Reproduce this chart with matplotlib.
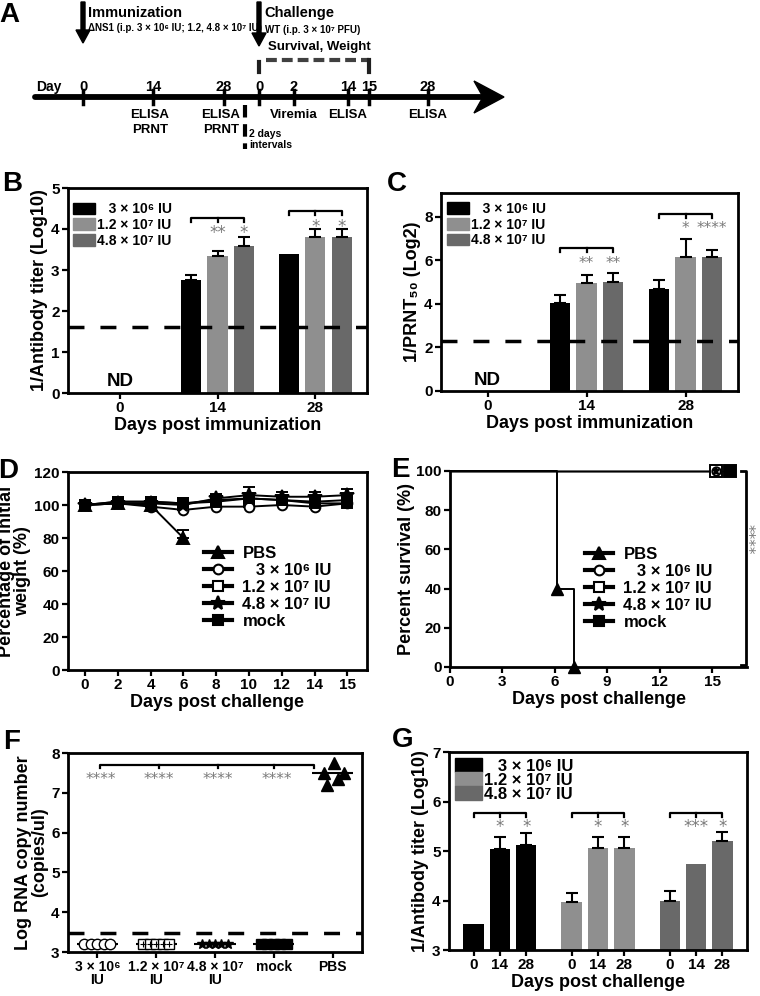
import numpy as np
import matplotlib.pyplot as plt
from matplotlib.lines import Line2D
from matplotlib.patches import Patch, Polygon, FancyArrow
from matplotlib.transforms import offset_copy

plt.rcParams["font.family"] = ["Liberation Sans", "DejaVu Sans"]
plt.rcParams["font.weight"] = "bold"
plt.rcParams["axes.labelweight"] = "bold"
plt.rcParams["axes.linewidth"] = 2.0
plt.rcParams["xtick.major.width"] = 1.6
plt.rcParams["ytick.major.width"] = 1.6
plt.rcParams["xtick.major.size"] = 4
plt.rcParams["ytick.major.size"] = 4
plt.rcParams["xtick.major.pad"] = 2
plt.rcParams["ytick.major.pad"] = 2
plt.rcParams["xtick.labelsize"] = 11
plt.rcParams["ytick.labelsize"] = 11
plt.rcParams["axes.labelsize"] = 13

NARROW = ["Liberation Sans Narrow", "DejaVu Sans Condensed", "Liberation Sans"]
W, H = 760, 996

# ---------------- data ----------------
dose_labels = ["   3 × 10⁶ IU", "1.2 × 10⁷ IU", "4.8 × 10⁷ IU"]
dose_colors = ["#000000", "#8f8f8f", "#696969"]
imm_days = ["0", "14", "28"]

# B: ELISA titer after immunization (day 0 not detected)
elisa_mean = [[np.nan, 2.76, 3.38], [np.nan, 3.34, 3.81], [np.nan, 3.59, 3.81]]
elisa_err = [[0, 0.13, 0], [0, 0.12, 0.19], [0, 0.22, 0.19]]
elisa_lod = 1.6
elisa_stars = [["", "", ""], ["", "**", "*"], ["", "*", "*"]]

# C: PRNT50 after immunization
prnt_mean = [[np.nan, 4.03, 4.67], [np.nan, 4.95, 6.17], [np.nan, 5.03, 6.17]]
prnt_err = [[0, 0.38, 0.43], [0, 0.38, 0.8], [0, 0.38, 0.31]]
prnt_lod = 2.32
prnt_stars = [["", "", ""], ["", "**", "**"], ["", "*", "****"]]

# D: weight after challenge
chal_days = [0, 2, 4, 6, 8, 10, 12, 14, 15]
weight_pbs = [100, 101, 100, 80]
weight_pbs_err = [0.5, 1, 1, 4.8]
weight_3e6 = [100, 101, 99, 97, 99, 99, 100, 99, 101]
weight_3e6_err = [0.5, 1, 1, 1, 1, 1, 1, 1, 1]
weight_12e7 = [100, 102, 102, 101, 103, 104, 103, 102, 103]
weight_12e7_err = [0.5, 1, 1.5, 1.5, 2, 2, 2, 2, 2]
weight_48e7 = [100, 101, 101, 100, 104, 106, 105, 105, 106]
weight_48e7_err = [0.5, 1, 1, 2, 2.5, 5, 3, 3, 4]
weight_mock = [100, 102, 102, 101, 102, 104, 103, 101, 101]
weight_mock_err = [0.5, 1, 1, 1, 1, 1, 1, 1, 1]
group_labels = ["PBS", "   3 × 10⁶ IU", "1.2 × 10⁷ IU", "4.8 × 10⁷ IU", "mock"]

# E: survival
surv_pbs_day = [0, 6.15, 7.1]
surv_pbs = [100, 40, 0]
surv_end_day = [15.2, 15.2, 15.2, 16.0]   # 3e6, 1.2e7, 4.8e7, mock
surv_end = [100, 100, 100, 100]

# F: viremia day 2
viremia_labels = ["3 × 10⁶\nIU", "1.2 × 10⁷\nIU", "4.8 × 10⁷\nIU", "mock", "PBS"]
viremia = [
    [3.2, 3.2, 3.2, 3.2, 3.2],
    [3.2, 3.2, 3.2, 3.2, 3.2],
    [3.2, 3.2, 3.2, 3.2, 3.2],
    [3.2, 3.2, 3.2, 3.2, 3.2],
    [7.75, 7.5, 7.5, 7.35, 7.2],
]
viremia_lod = 3.48

# G: ELISA titer after challenge
g_days = ["0", "14", "28"]
g_mean = [[3.53, 5.04, 5.12], [3.97, 5.07, 5.07], [4.0, 4.73, 5.2]]
g_err = [[0, 0.25, 0.25], [0.19, 0.22, 0.22], [0.2, 0, 0.18]]
g_stars = [["", "*", "*"], ["", "*", "*"], ["", "***", "*"]]


# ---------------- helpers ----------------
def add_axes_px(fig, left, top, right, bottom):
    return fig.add_axes([left / W, 1 - bottom / H, (right - left) / W, (bottom - top) / H])


def bracket(ax, x0, x1, y, h, mids=()):
    ax.plot([x0, x0, x1, x1], [y - h, y, y, y - h], color="k", lw=1.6, clip_on=False)
    for xm in mids:
        ax.plot([xm, xm], [y, y - h], color="k", lw=1.6, clip_on=False)


def stars(ax, x, y, s, size=12, rot=0):
    # the asterisk sits high in its em box, pull it back to the anchor
    dx, dy = (-5, 0) if rot else (0, -5)
    tr = offset_copy(ax.transData, fig=ax.figure, x=dx, y=dy, units="dots")
    ax.text(x, y, s, color="#7a7a7a", fontweight="normal", family="DejaVu Sans",
            ha="center", va="center", fontsize=size, rotation=rot, clip_on=False,
            transform=tr)


def bars(ax, centers, values, errors, color, label=None):
    centers = np.asarray(centers, float)
    v = np.asarray(values, float)
    e = np.asarray(errors, float)
    ax.bar(centers, v, width=0.205, color=color, label=label, zorder=2)
    ok = e > 0
    ax.errorbar(centers[ok], v[ok], yerr=[np.zeros(ok.sum()), e[ok]], fmt="none",
                ecolor="k", elinewidth=1.5, capsize=4, capthick=1.5, zorder=3)


def bar_legend(ax, x, y, size=10, spacing=0.12):
    h = [Patch(color=c) for c in dose_colors]
    ax.legend(h, dose_labels, loc="upper left", bbox_to_anchor=(x, y), frameon=False,
              fontsize=size, handlelength=1.6, handleheight=0.9, handletextpad=0.15,
              labelspacing=spacing, borderpad=0, borderaxespad=0)


def marker_styles():
    return [
        dict(marker="^", mfc="k", ms=8),
        dict(marker="o", mfc="white", ms=7),
        dict(marker="s", mfc="white", ms=7),
        dict(marker="*", mfc="k", ms=10),
        dict(marker="s", mfc="k", ms=7),
    ]


def line_legend(ax, x, y):
    h = [Line2D([], [], color="k", lw=3, mec="k", mew=1.5, **st) for st in marker_styles()]
    ax.legend(h, group_labels, loc="upper left", bbox_to_anchor=(x, y), frameon=False,
              fontsize=12, handlelength=1.7, handletextpad=0.6, labelspacing=0.12,
              borderpad=0, borderaxespad=0)


def narrow(ax, x, y, s, size, **kw):
    kw.setdefault("ha", "left")
    kw.setdefault("va", "center")
    ax.text(x, y, s, fontsize=size, family=NARROW, fontstretch="condensed", **kw)


fig = plt.figure(figsize=(W / 100, H / 100), dpi=100)

# ---------------- A: timeline ----------------
axa = fig.add_axes([0, 1 - 155 / H, 1, 155 / H])
axa.set_xlim(0, W)
axa.set_ylim(155, 0)
axa.axis("off")

tl_labels = ["0", "14", "28", "0", "2", "14", "15", "28"]
tl_x = [83, 153, 224, 259, 294, 348, 369, 428]
tl_readout = ["", "ELISA\nPRNT", "ELISA\nPRNT", "", "Viremia", "ELISA", "", "ELISA"]

axa.plot([35, 486], [97, 97], color="k", lw=4.2, solid_capstyle="round")
axa.add_patch(Polygon([(504, 97), (474, 81), (483, 97), (474, 113)], closed=True, color="k"))
for x, lab, ro in zip(tl_x, tl_labels, tl_readout):
    axa.plot([x, x], [90, 104], color="k", lw=2.5)
    narrow(axa, x, 87, lab, 10.5, ha="center")
    if ro:
        narrow(axa, x - 3 if "PRNT" in ro else x, 109, ro, 9.5, ha="center", va="top",
               linespacing=1.3)
narrow(axa, 36, 87, "Day", 10)

axa.plot([245, 245], [105, 149], color="k", lw=3, dashes=(3, 1.6))
narrow(axa, 249, 134, "2 days", 7.5)
narrow(axa, 249, 145, "intervals", 7.5)

axa.add_patch(FancyArrow(83, 2, 0, 41, width=4, head_width=14, head_length=13,
                         length_includes_head=True, color="k"))
axa.add_patch(FancyArrow(259, 2, 0, 44, width=4, head_width=14, head_length=13,
                         length_includes_head=True, color="k"))
narrow(axa, 88, 13, "Immunization", 10.5)
narrow(axa, 88, 28, "ΔNS1 (i.p. 3 × 10⁶ IU; 1.2, 4.8 × 10⁷ IU)", 7)
narrow(axa, 264, 13, "Challenge", 10.5)
narrow(axa, 265, 30, "WT (i.p. 3 × 10⁷ PFU)", 7)
narrow(axa, 268, 47, "Survival, Weight", 9.5)
axa.plot([266, 369], [60, 60], color="#404040", lw=3, dashes=(2.6, 1.2))
axa.plot([259, 259], [62, 72], color="#202020", lw=3)
axa.plot([369, 369], [60, 72], color="#202020", lw=3)

offs = [-0.27, 0, 0.27]
xg = np.arange(3)

# ---------------- B ----------------
axb = add_axes_px(fig, 68, 188, 367, 393)
for i in range(3):
    bars(axb, xg + offs[i], elisa_mean[i], elisa_err[i], dose_colors[i], dose_labels[i])
axb.axhline(elisa_lod, color="k", lw=2.5, dashes=(4.6, 4.6), zorder=4)
axb.text(0, 0.29, "ND", ha="center", va="center", fontsize=13.5)
for k, yb, ys in [(1, 4.27, 4.03), (2, 4.43, 4.18)]:
    bracket(axb, k + offs[0], k + offs[2], yb, 0.1, mids=[k])
    for i in (1, 2):
        stars(axb, k + offs[i], ys, elisa_stars[k][i])
axb.set_xlim(-0.53, 2.53)
axb.set_ylim(0, 5)
axb.set_xticks(xg, imm_days)
axb.set_yticks(range(6))
axb.set_xlabel("Days post immunization", labelpad=1)
axb.set_ylabel("1/Antibody titer (Log10)", labelpad=2)
bar_legend(axb, 0.017, 0.93)

# ---------------- C ----------------
axc = add_axes_px(fig, 441, 193, 738, 391)
for i in range(3):
    bars(axc, xg + offs[i], prnt_mean[i], prnt_err[i], dose_colors[i], dose_labels[i])
axc.axhline(prnt_lod, color="k", lw=2.5, dashes=(4.6, 4.6), zorder=4)
axc.text(0, 0.46, "ND", ha="center", va="center", fontsize=13.5)
for k, yb, ys in [(1, 6.57, 6.1), (2, 8.14, 7.7)]:
    bracket(axc, k + offs[0], k + offs[2], yb, 0.18, mids=[k])
    for i in (1, 2):
        stars(axc, k + offs[i], ys, prnt_stars[k][i], size=11)
axc.set_xlim(-0.47, 2.53)
axc.set_ylim(0, 9.1)
axc.set_xticks(xg, imm_days)
axc.set_yticks([0, 2, 4, 6, 8])
axc.set_xlabel("Days post immunization", labelpad=1)
axc.set_ylabel("1/PRNT₅₀ (Log2)", labelpad=2)
bar_legend(axc, 0.02, 0.955)

# ---------------- D ----------------
axd = add_axes_px(fig, 68, 472, 367, 670)
xd = np.arange(len(chal_days))
weights = [
    (weight_pbs, weight_pbs_err),
    (weight_3e6, weight_3e6_err),
    (weight_12e7, weight_12e7_err),
    (weight_48e7, weight_48e7_err),
    (weight_mock, weight_mock_err),
]
styles = marker_styles()
for idx in [1, 2, 0, 3, 4]:
    y, e = weights[idx]
    axd.errorbar(xd[:len(y)], y, yerr=[np.zeros(len(e)), e], color="k", lw=1.4,
                 mec="k", mew=1.4, capsize=4, capthick=1.4, elinewidth=1.4, **styles[idx])
axd.set_xlim(-0.52, 8.6)
axd.set_ylim(0, 120)
axd.set_xticks(xd, [str(d) for d in chal_days])
axd.set_yticks(range(0, 121, 20))
axd.set_xlabel("Days post challenge", labelpad=1)
axd.set_ylabel("Percentage of initial\nweight (%)", labelpad=2, linespacing=0.95)
line_legend(axd, 0.455, 0.625)

# ---------------- E ----------------
axe = add_axes_px(fig, 450, 471, 747, 667)
axe.spines["top"].set_visible(False)
axe.spines["right"].set_visible(False)
axe.step(surv_pbs_day, surv_pbs, where="post", color="k", lw=1.4, clip_on=False)
axe.plot(surv_pbs_day[1:], surv_pbs[1:], ls="none", color="k", clip_on=False, zorder=5,
         **styles[0])
for d, s in zip(surv_end_day, surv_end):
    axe.plot([0, d], [s, s], color="k", lw=1.0, clip_on=False)
end_styles = [dict(marker="s", mfc="white", ms=9), dict(marker="o", mfc="white", ms=6),
              dict(marker="*", mfc="k", ms=5), dict(marker="s", mfc="k", ms=9)]
for idx, order in enumerate([1, 0, 2, 3]):
    axe.plot(surv_end_day[order], surv_end[order], ls="none", mec="k", mew=1.4,
             color="k", clip_on=False, zorder=5, **end_styles[idx])
axe.plot([16.65, 16.95, 16.95, 16.65], [100, 100, 1, 1], color="k", lw=2, clip_on=False,
         zorder=6)
stars(axe, 17.3, 65, "****", size=11, rot=270)
axe.set_xlim(0, 17)
axe.set_ylim(0, 100)
axe.set_xticks(range(0, 16, 3))
axe.set_yticks(range(0, 101, 20))
axe.set_xlabel("Days post challenge", labelpad=1)
axe.set_ylabel("Percent survival (%)", labelpad=1)
line_legend(axe, 0.455, 0.612)

# ---------------- F ----------------
axf = add_axes_px(fig, 68, 753, 362, 952)
xf = np.arange(len(viremia))
f_styles = [dict(marker="o", mfc="white", ms=7.5), dict(marker="s", mfc="white", ms=6.5),
            dict(marker="*", mfc="k", ms=7), dict(marker="s", mfc="k", ms=7.5),
            dict(marker="^", mfc="k", ms=8)]
spread = np.linspace(-0.22, 0.22, 5)
pbs_spread = [0.02, -0.15, 0.19, 0.09, -0.09]
for i, vals in enumerate(viremia):
    off = pbs_spread if i == 4 else spread
    axf.hlines(np.median(vals), i - 0.35, i + 0.35, color="k", lw=1.5, zorder=2)
    axf.plot(i + np.asarray(off), vals, ls="none", color="k", mec="k", mew=1.0,
             zorder=3, **f_styles[i])
    if i == 1:
        axf.plot(i + np.asarray(off), vals, ls="none", marker="+", ms=5, mew=0.8,
                 color="k", zorder=4)
axf.axhline(viremia_lod, color="k", lw=2.5, dashes=(4.6, 4.6), zorder=4)
bracket(axf, 0.05, 3.68, 7.7, 0.07, mids=[1.05, 2.05, 3.0])
for i in range(4):
    stars(axf, i + 0.05, 7.45, "****", size=11)
axf.set_xlim(-0.5, 4.5)
axf.set_ylim(3, 8)
axf.set_xticks(xf, viremia_labels, linespacing=0.9, fontsize=10)
axf.set_yticks(range(3, 9))
axf.set_ylabel("Log RNA copy number\n(copies/ul)", labelpad=2, linespacing=0.95)

# ---------------- G ----------------
axg = add_axes_px(fig, 449, 752, 747, 950)
for i in range(3):
    bars(axg, i + np.asarray(offs), g_mean[i], g_err[i], dose_colors[i], dose_labels[i])
    bracket(axg, i + offs[0], i + offs[2], 5.77, 0.08, mids=[i])
    for j in (1, 2):
        stars(axg, i + offs[j], 5.59, g_stars[i][j])
axg.set_xlim(-0.52, 2.52)
axg.set_ylim(3, 7)
gx = [i + o for i in range(3) for o in offs]
axg.set_xticks(gx, g_days * 3)
axg.set_yticks(range(3, 8))
axg.set_xlabel("Days post challenge", labelpad=1)
axg.set_ylabel("1/Antibody titer (Log10)", labelpad=2)
bar_legend(axg, 0.02, 0.97, size=12, spacing=-0.1)

# ---------------- panel letters ----------------
for lab, x, y in [("A", 9, 15), ("B", 12, 184), ("C", 397, 184), ("D", 8, 471),
                  ("E", 400, 470), ("F", 12, 742), ("G", 403, 740)]:
    fig.text(x / W, 1 - y / H, lab, ha="center", va="center", fontsize=20)

fig.savefig("out.png", dpi=100)
